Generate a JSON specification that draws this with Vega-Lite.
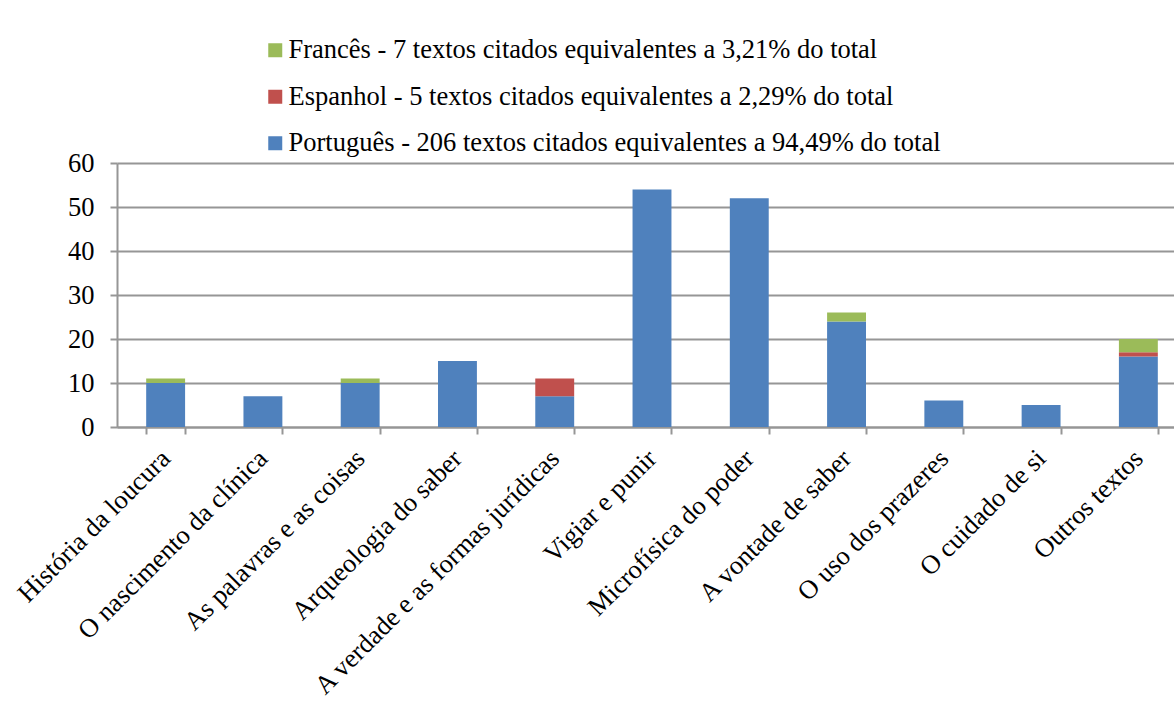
{
  "$schema": "https://vega.github.io/schema/vega-lite/v6.json",
  "autosize": "none",
  "padding": {"left": 117, "top": 163, "right": 0, "bottom": 288},
  "width": 1070,
  "height": 264,
  "background": "white",
  "data": {
    "values": [
      {"obra": "História da loucura", "idioma": "Português - 206 textos citados equivalentes a 94,49% do total", "ordem": 1, "n": 10},
      {"obra": "História da loucura", "idioma": "Francês - 7 textos citados equivalentes a 3,21% do total", "ordem": 3, "n": 1},
      {"obra": "O nascimento da clínica", "idioma": "Português - 206 textos citados equivalentes a 94,49% do total", "ordem": 1, "n": 7},
      {"obra": "As palavras e as coisas", "idioma": "Português - 206 textos citados equivalentes a 94,49% do total", "ordem": 1, "n": 10},
      {"obra": "As palavras e as coisas", "idioma": "Francês - 7 textos citados equivalentes a 3,21% do total", "ordem": 3, "n": 1},
      {"obra": "Arqueologia do saber", "idioma": "Português - 206 textos citados equivalentes a 94,49% do total", "ordem": 1, "n": 15},
      {"obra": "A verdade e as formas jurídicas", "idioma": "Português - 206 textos citados equivalentes a 94,49% do total", "ordem": 1, "n": 7},
      {"obra": "A verdade e as formas jurídicas", "idioma": "Espanhol - 5 textos citados equivalentes a 2,29% do total", "ordem": 2, "n": 4},
      {"obra": "Vigiar e punir", "idioma": "Português - 206 textos citados equivalentes a 94,49% do total", "ordem": 1, "n": 54},
      {"obra": "Microfísica do poder", "idioma": "Português - 206 textos citados equivalentes a 94,49% do total", "ordem": 1, "n": 52},
      {"obra": "A vontade de saber", "idioma": "Português - 206 textos citados equivalentes a 94,49% do total", "ordem": 1, "n": 24},
      {"obra": "A vontade de saber", "idioma": "Francês - 7 textos citados equivalentes a 3,21% do total", "ordem": 3, "n": 2},
      {"obra": "O uso dos prazeres", "idioma": "Português - 206 textos citados equivalentes a 94,49% do total", "ordem": 1, "n": 6},
      {"obra": "O cuidado de si", "idioma": "Português - 206 textos citados equivalentes a 94,49% do total", "ordem": 1, "n": 5},
      {"obra": "Outros textos", "idioma": "Português - 206 textos citados equivalentes a 94,49% do total", "ordem": 1, "n": 16},
      {"obra": "Outros textos", "idioma": "Espanhol - 5 textos citados equivalentes a 2,29% do total", "ordem": 2, "n": 1},
      {"obra": "Outros textos", "idioma": "Francês - 7 textos citados equivalentes a 3,21% do total", "ordem": 3, "n": 3}
    ]
  },
  "mark": {"type": "bar"},
  "encoding": {
    "x": {
      "field": "obra",
      "type": "nominal",
      "sort": null,
      "scale": {"paddingInner": 0.6, "paddingOuter": 0.3},
      "axis": {
        "title": null,
        "labelAngle": -45,
        "labelAlign": "right",
        "labelBaseline": "middle",
        "labelFont": "Liberation Serif",
        "labelFontSize": 26.5,
        "labelColor": "black",
        "labelPadding": 20,
        "labelOffset": 0,
        "labelLimit": 0,
        "labelOverlap": false,
        "tickBand": "extent",
        "tickColor": "#969696",
        "tickSize": 7,
        "tickWidth": 2,
        "domainColor": "#969696",
        "domainWidth": 2
      }
    },
    "y": {
      "field": "n",
      "type": "quantitative",
      "aggregate": "sum",
      "stack": "zero",
      "scale": {"domain": [0, 60], "nice": false},
      "axis": {
        "title": null,
        "values": [0, 10, 20, 30, 40, 50, 60],
        "labelFont": "Liberation Serif",
        "labelFontSize": 26.5,
        "labelColor": "black",
        "labelPadding": 16,
        "tickColor": "#969696",
        "tickSize": 7,
        "tickWidth": 2,
        "domainColor": "#969696",
        "domainWidth": 2,
        "gridColor": "#969696",
        "gridWidth": 2
      }
    },
    "color": {
      "field": "idioma",
      "type": "nominal",
      "scale": {
        "domain": [
          "Francês - 7 textos citados equivalentes a 3,21% do total",
          "Espanhol - 5 textos citados equivalentes a 2,29% do total",
          "Português - 206 textos citados equivalentes a 94,49% do total"
        ],
        "range": ["#9BBB59", "#C0504D", "#4F81BD"]
      },
      "legend": {
        "title": null,
        "orient": "none",
        "legendX": 145,
        "legendY": -126,
        "direction": "vertical",
        "symbolType": "square",
        "symbolSize": 196,
        "symbolStrokeWidth": 0,
        "labelFont": "Liberation Serif",
        "labelFontSize": 26.5,
        "labelColor": "black",
        "labelLimit": 0,
        "rowPadding": 19.5,
        "labelOffset": 0
      }
    },
    "order": {"field": "ordem", "type": "quantitative"}
  },
  "config": {
    "view": {"stroke": null}
  }
}
